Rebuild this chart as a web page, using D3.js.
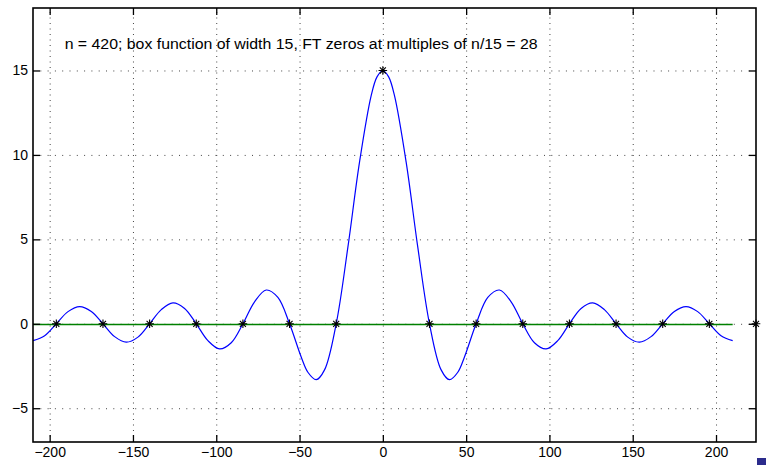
<!DOCTYPE html>
<html>
<head>
<meta charset="utf-8">
<script src="https://cdn.jsdelivr.net/npm/d3@7"></script>
<style>
  body { margin: 0; background: #fff; }
  svg { display: block; font-family: "Liberation Sans", Arial, sans-serif; }
  .grid line { stroke: #444; stroke-width: 1; }
  .grid path { display: none; }
  .axis path { display: none; }
  .axis line { stroke: #000; stroke-width: 1.3; }
  .axis text { font-size: 14px; fill: #000; }
</style>
</head>
<body>
<div id="chart"></div>
<script>
// tick values
const xTicks = [-200, -150, -100, -50, 0, 50, 100, 150, 200];
const yTicks = [-5, 0, 5, 10, 15];

// FT of the box function
const curveX = [-210, -203, -196, -189, -182, -175, -168, -161, -154, -147, -140, -133, -126, -119, -112, -105, -98, -91, -84, -77, -70, -63, -56, -49, -45, -40, -35, -28, -21, -14, -7, -3.5,
  0, 3.5, 7, 14, 21, 28, 35, 40, 45, 49, 56, 63, 70, 77, 84, 91, 98, 105, 112, 119, 126, 133, 140, 147, 154, 161, 168, 175, 182, 189, 196, 203, 210];
const curveY = [-1.0, -0.71, 0, 0.72, 1.02, 0.73, 0, -0.76, -1.09, -0.79, 0, 0.84, 1.24, 0.91, 0, -1.0, -1.49, -1.12, 0, 1.30, 2.0, 1.56, 0, -1.97, -2.87, -3.31, -2.73, 0, 4.52, 9.57, 13.51, 14.62,
  15, 14.62, 13.51, 9.57, 4.52, 0, -2.73, -3.31, -2.87, -1.97, 0, 1.56, 2.0, 1.30, 0, -1.12, -1.49, -1.0, 0, 0.91, 1.24, 0.84, 0, -0.79, -1.09, -0.76, 0, 0.73, 1.02, 0.72, 0, -0.71, -1.0];

// zero line
const zeroX = [-210, 210];
const zeroY = [0, 0];

// asterisk markers at multiples of 28
const starX = [-196, -168, -140, -112, -84, -56, -28, 0, 28, 56, 84, 112, 140, 168, 196, 224];
const starY = [0, 0, 0, 0, 0, 0, 0, 15, 0, 0, 0, 0, 0, 0, 0, 0];

const titleText = 'n = 420; box function of width 15, FT zeros at multiples of n/15 = 28';

const W = 766, H = 465;
const margin = { top: 8, right: 10, bottom: 23, left: 33 };
const width = W - margin.left - margin.right,
    height = H - margin.top - margin.bottom;

const svg = d3.select('#chart').append('svg')
    .attr('width', W)
    .attr('height', H);

const g = svg.append('g')
    .attr('transform', `translate(${margin.left},${margin.top})`);

const x = d3.scaleLinear().domain([-210, 224]).range([0, width]);
const y = d3.scaleLinear().domain([-7, 18.7]).range([height, 0]);

// dotted grid
g.append('g').attr('class', 'grid')
    .attr('transform', `translate(0,${height})`)
    .call(d3.axisBottom(x).tickValues(xTicks).tickSize(-height).tickFormat(''))
    .selectAll('line').attr('stroke-dasharray', '1,4.5');
g.append('g').attr('class', 'grid')
    .call(d3.axisLeft(y).tickValues(yTicks).tickSize(-width).tickFormat(''))
    .selectAll('line').attr('stroke-dasharray', '1,6.3');

// zero line (green)
g.append('path')
    .datum(zeroX.map((d, i) => [d, zeroY[i]]))
    .attr('fill', 'none')
    .attr('stroke', '#008000')
    .attr('stroke-width', 1.4)
    .attr('d', d3.line().x(d => x(d[0])).y(d => Math.round(y(d[1])) + 0.5));

// blue curve
g.append('path')
    .datum(curveX.map((d, i) => [d, curveY[i]]))
    .attr('fill', 'none')
    .attr('stroke', '#0000ff')
    .attr('stroke-width', 1.2)
    .attr('d', d3.line().x(d => x(d[0])).y(d => y(d[1])).curve(d3.curveCatmullRom));

// star markers
const s = 4.3;
g.selectAll('path.star')
    .data(starX.map((d, i) => [d, starY[i]]))
    .enter().append('path')
    .attr('class', 'star')
    .attr('transform', d => `translate(${x(d[0])},${y(d[1])})`)
    .attr('d', `M${-s},0H${s}M0,${-s}V${s}M${-s * 0.7},${-s * 0.7}L${s * 0.7},${s * 0.7}M${-s * 0.7},${s * 0.7}L${s * 0.7},${-s * 0.7}`)
    .attr('stroke', '#000')
    .attr('stroke-width', 1.1)
    .attr('fill', 'none');

// axes, ticks pointing inwards, on all four sides
const fmt = d => d < 0 ? '\u2212' + Math.abs(d) : d;
g.append('g').attr('class', 'axis')
    .attr('transform', `translate(0,${height})`)
    .call(d3.axisBottom(x).tickValues(xTicks).tickSizeInner(-7).tickSizeOuter(0).tickPadding(5).tickFormat(fmt));
g.append('g').attr('class', 'axis')
    .call(d3.axisLeft(y).tickValues(yTicks).tickSizeInner(-7).tickSizeOuter(0).tickPadding(5).tickFormat(fmt));
g.append('g').attr('class', 'axis')
    .call(d3.axisTop(x).tickValues(xTicks).tickSizeInner(-7).tickSizeOuter(0).tickFormat(''));
g.append('g').attr('class', 'axis')
    .attr('transform', `translate(${width},0)`)
    .call(d3.axisRight(y).tickValues(yTicks).tickSizeInner(-7).tickSizeOuter(0).tickFormat(''));

// box
g.append('rect')
    .attr('width', width)
    .attr('height', height)
    .attr('fill', 'none')
    .attr('stroke', '#000')
    .attr('stroke-width', 1.6);

// annotation
g.append('text')
    .attr('x', x(-191))
    .attr('y', y(16.25))
    .attr('font-size', 14)
    .attr('textLength', 473)
    .attr('lengthAdjust', 'spacingAndGlyphs')
    .text(titleText);

// small square in the corner
svg.append('rect')
    .attr('x', 757).attr('y', 458)
    .attr('width', 9).attr('height', 7)
    .attr('fill', '#2b2b8c');
</script>
</body>
</html>
